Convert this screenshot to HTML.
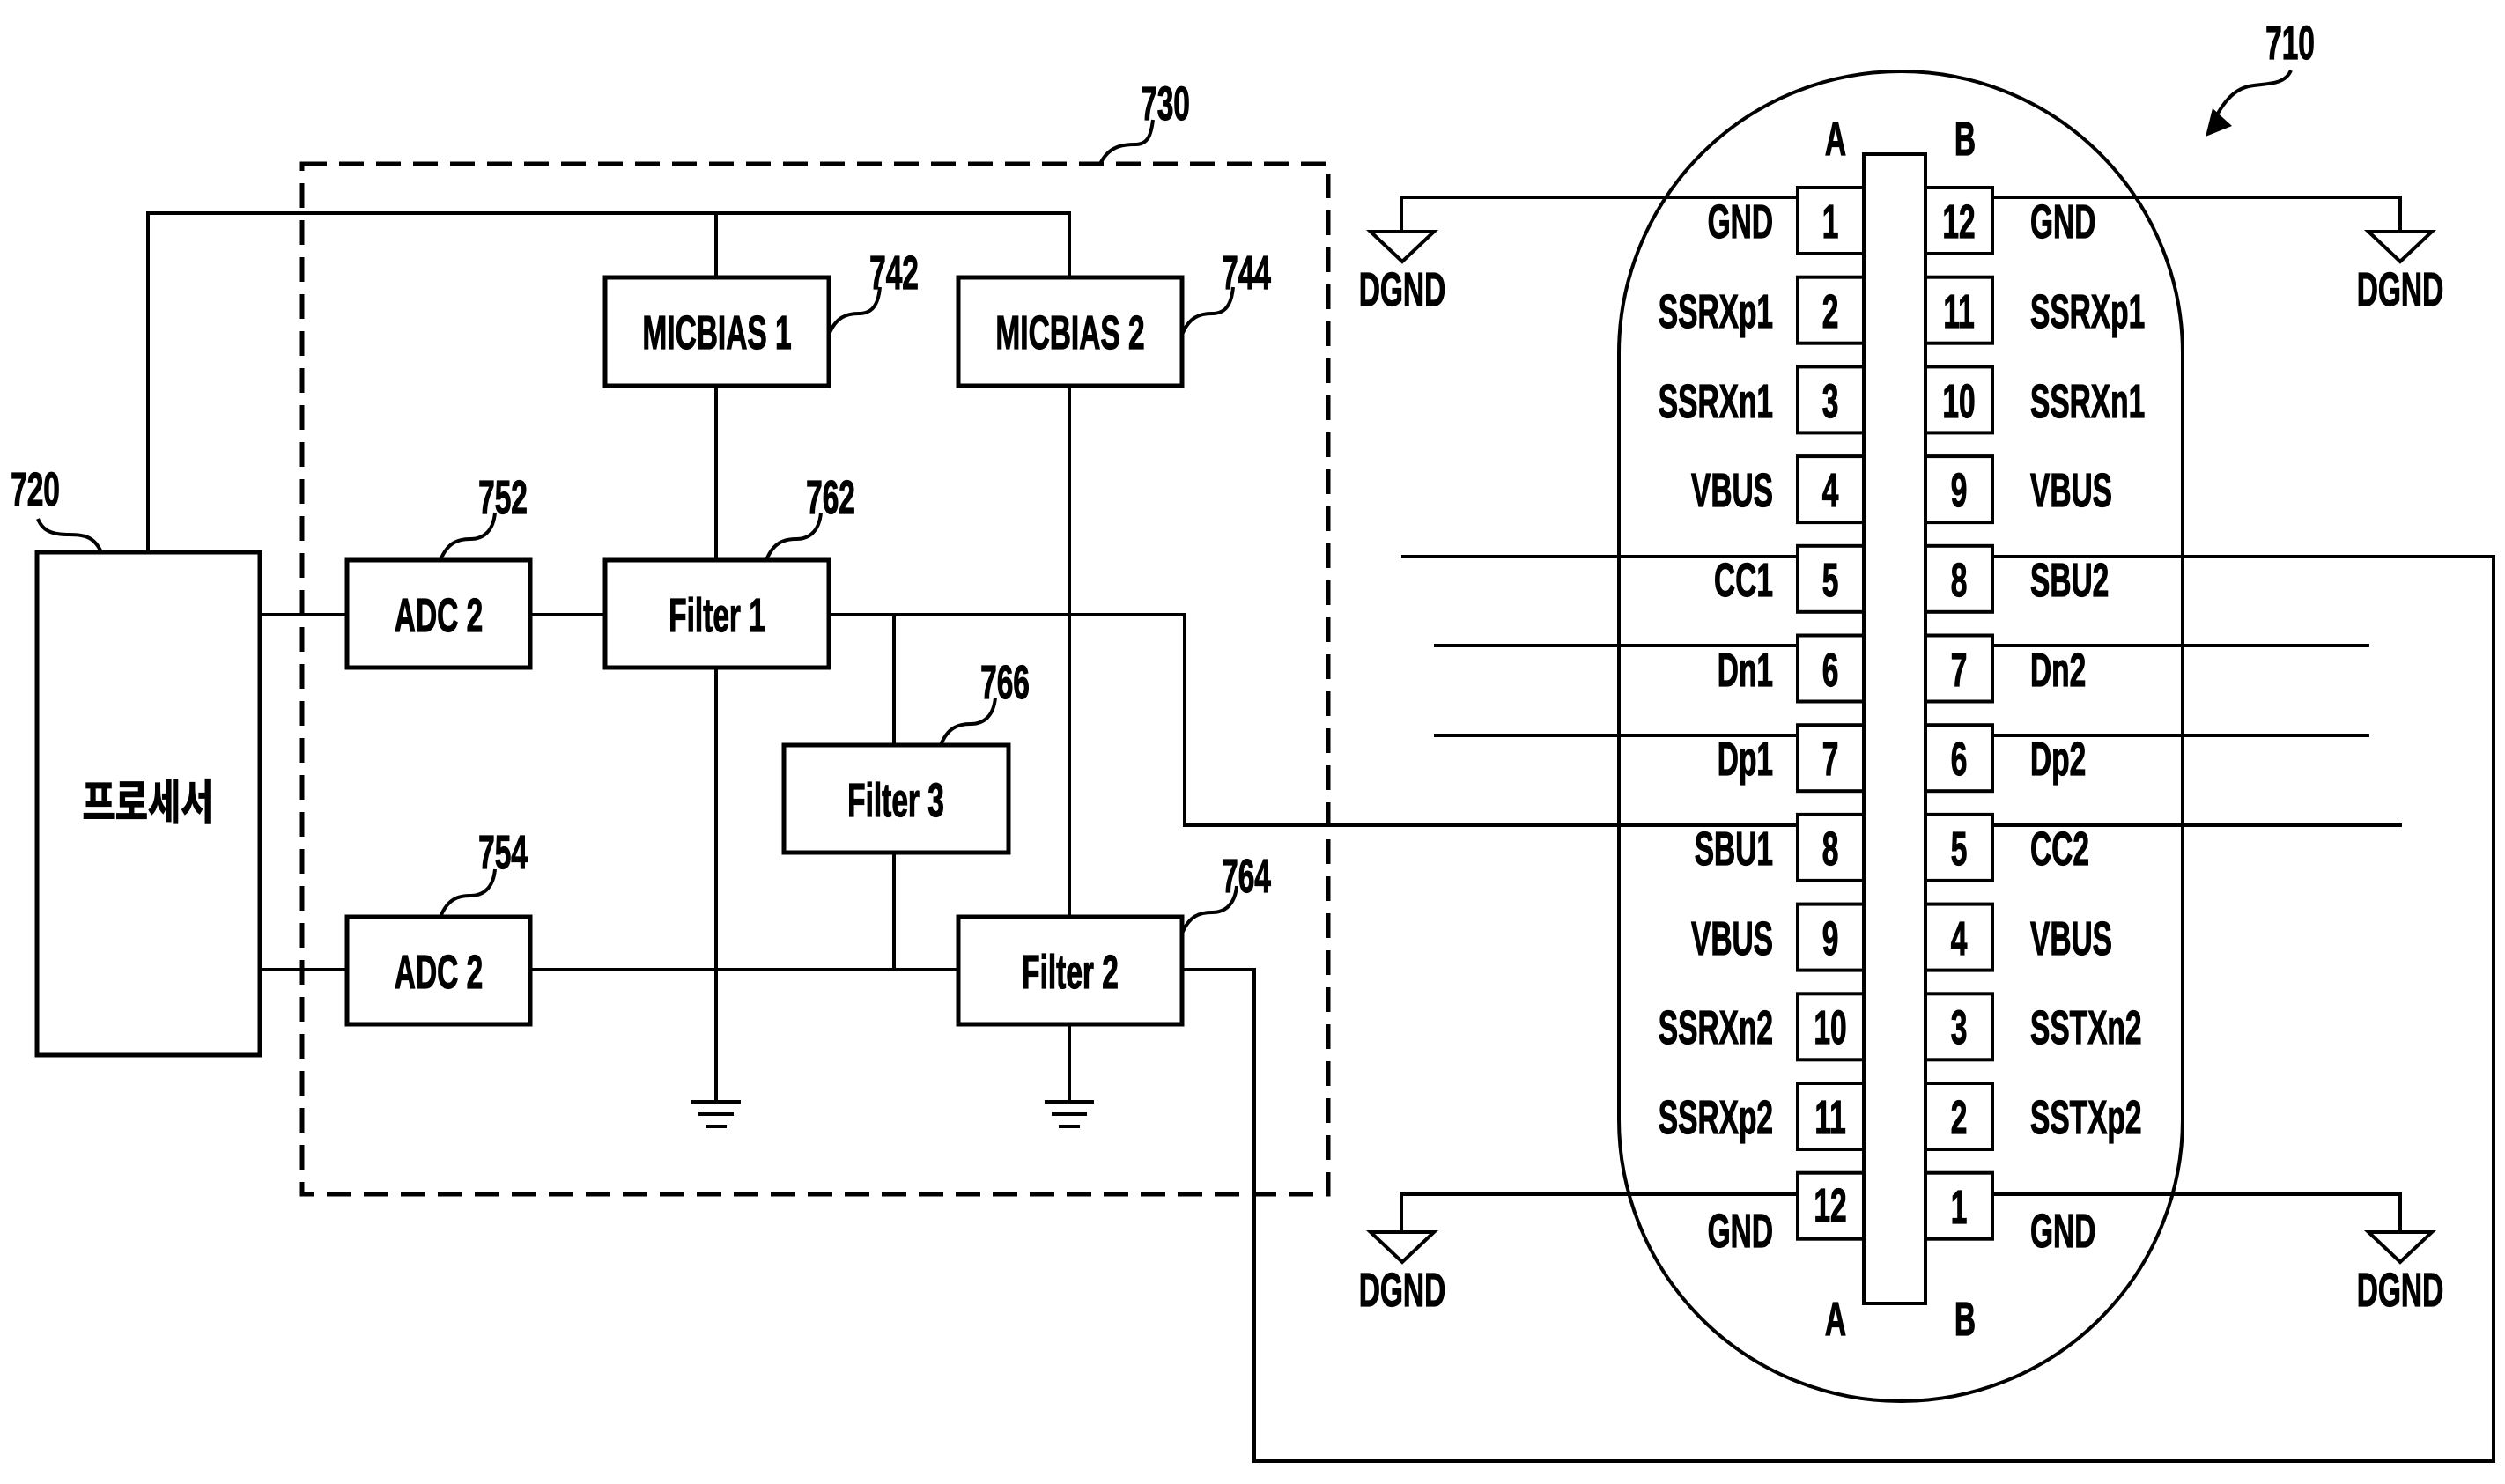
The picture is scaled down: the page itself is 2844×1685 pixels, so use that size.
<!DOCTYPE html>
<html><head><meta charset="utf-8"><style>
html,body{margin:0;padding:0;background:#fff}
svg{display:block}
text{font-family:"Liberation Sans","Noto Sans CJK KR",sans-serif;font-weight:bold;font-size:54px;fill:#000;stroke:#000;stroke-width:1.2}
</style></head><body>
<svg width="2844" height="1685" viewBox="0 0 2844 1685" xmlns="http://www.w3.org/2000/svg">
<g fill="none" stroke="#000" stroke-width="4">
<rect x="343" y="186" width="1165" height="1170" stroke-width="5" stroke-dasharray="28,14"/>
<g stroke-width="5">
<rect x="42" y="627" width="253" height="571"/>
<rect x="687" y="315" width="254" height="123"/>
<rect x="1088" y="315" width="254" height="123"/>
<rect x="394" y="636" width="208" height="122"/>
<rect x="687" y="636" width="254" height="122"/>
<rect x="890" y="846" width="255" height="122"/>
<rect x="394" y="1041" width="208" height="122"/>
<rect x="1088" y="1041" width="254" height="122"/>
</g>
<path d="M168 627V242H1214V315M813 242V315M813 438V636M813 758V1251M1214 438V1041M1214 1163V1251"/>
<path d="M295 698H394M602 698H687M941 698H1345V937H2041M1015 698V846M1015 968V1101"/>
<path d="M295 1101H394M602 1101H1088M1342 1101H1424V1659H2831V632H2262"/>
<path d="M785 1251H841M793 1265H833M801 1279H825M1186 1251H1242M1194 1265H1234M1202 1279H1226"/>
<path d="M1249 186c10-20 25-22 40-22s18-12 20-28"/>
<path d="M941 380c8-20 20-24 34-24s22-8 24-30"/>
<path d="M1342 380c8-20 20-24 34-24s22-8 24-30"/>
<path d="M115 627c-8-18-20-20-36-20s-30-2-36-18"/>
<path d="M500 636c8-20 20-24 34-24s26-8 28-30"/>
<path d="M870 636c8-20 20-24 34-24s26-8 28-30"/>
<path d="M1068 846c8-20 20-24 34-24s26-8 28-30"/>
<path d="M500 1041c8-20 20-24 34-24s26-8 28-30"/>
<path d="M1342 1060c8-20 20-24 34-24s26-8 28-30"/>
<path d="M2601 80c-8 18-30 14-48 18s-30 20-40 40"/>
</g>
<path d="M2504 155l8-32 22 20z" fill="#000"/>
<g fill="none" stroke="#000" stroke-width="4">
<rect x="1838" y="81" width="640" height="1510" rx="320" ry="320"/>
<rect x="2116" y="175" width="70" height="1305"/>
<g stroke-width="4">
<rect x="2041" y="213" width="75" height="75"/><rect x="2186" y="213" width="76" height="75"/>
<rect x="2041" y="314.7" width="75" height="75"/><rect x="2186" y="314.7" width="76" height="75"/>
<rect x="2041" y="416.4" width="75" height="75"/><rect x="2186" y="416.4" width="76" height="75"/>
<rect x="2041" y="518.1" width="75" height="75"/><rect x="2186" y="518.1" width="76" height="75"/>
<rect x="2041" y="619.8" width="75" height="75"/><rect x="2186" y="619.8" width="76" height="75"/>
<rect x="2041" y="721.5" width="75" height="75"/><rect x="2186" y="721.5" width="76" height="75"/>
<rect x="2041" y="823.2" width="75" height="75"/><rect x="2186" y="823.2" width="76" height="75"/>
<rect x="2041" y="924.9" width="75" height="75"/><rect x="2186" y="924.9" width="76" height="75"/>
<rect x="2041" y="1026.6" width="75" height="75"/><rect x="2186" y="1026.6" width="76" height="75"/>
<rect x="2041" y="1128.3" width="75" height="75"/><rect x="2186" y="1128.3" width="76" height="75"/>
<rect x="2041" y="1230" width="75" height="75"/><rect x="2186" y="1230" width="76" height="75"/>
<rect x="2041" y="1331.7" width="75" height="75"/><rect x="2186" y="1331.7" width="76" height="75"/>
</g>
<path d="M2041 224H1591V263M2262 224H2725V263M2041 1356H1591V1399M2262 1356H2725V1399"/>
<path d="M1556 263H1628L1592 297ZM2689 263H2761L2725 297ZM1556 1399H1628L1592 1433ZM2689 1399H2761L2725 1433Z"/>
<path d="M1591 632H2041M1628 733H2041M1628 835H2041M2262 733H2690M2262 835H2690M2262 937H2727"/>
</g>
<g>
<text transform="translate(814,396) scale(.62,1)" text-anchor="middle">MICBIAS 1</text>
<text transform="translate(1215,396) scale(.62,1)" text-anchor="middle">MICBIAS 2</text>
<text transform="translate(498,717) scale(.62,1)" text-anchor="middle">ADC 2</text>
<text transform="translate(814,717) scale(.62,1)" text-anchor="middle">Filter 1</text>
<text transform="translate(1017,927) scale(.62,1)" text-anchor="middle">Filter 3</text>
<text transform="translate(498,1122) scale(.62,1)" text-anchor="middle">ADC 2</text>
<text transform="translate(1215,1122) scale(.62,1)" text-anchor="middle">Filter 2</text>
<text transform="translate(168,930) scale(.75,1)" text-anchor="middle">프로세서</text>
<text transform="translate(1323,136) scale(.62,1)" text-anchor="middle">730</text>
<text transform="translate(1015,328) scale(.62,1)" text-anchor="middle">742</text>
<text transform="translate(1415,328) scale(.62,1)" text-anchor="middle">744</text>
<text transform="translate(40,574) scale(.62,1)" text-anchor="middle">720</text>
<text transform="translate(571,583) scale(.62,1)" text-anchor="middle">752</text>
<text transform="translate(943,583) scale(.62,1)" text-anchor="middle">762</text>
<text transform="translate(1141,793) scale(.62,1)" text-anchor="middle">766</text>
<text transform="translate(571,986) scale(.62,1)" text-anchor="middle">754</text>
<text transform="translate(1415,1013) scale(.62,1)" text-anchor="middle">764</text>
<text transform="translate(2600,67) scale(.62,1)" text-anchor="middle">710</text>
<text transform="translate(2084,176) scale(.62,1)" text-anchor="middle">A</text>
<text transform="translate(2231,176) scale(.62,1)" text-anchor="middle">B</text>
<text transform="translate(2084,1516) scale(.62,1)" text-anchor="middle">A</text>
<text transform="translate(2231,1516) scale(.62,1)" text-anchor="middle">B</text>
<text transform="translate(1592,347) scale(.62,1)" text-anchor="middle">DGND</text>
<text transform="translate(2725,347) scale(.62,1)" text-anchor="middle">DGND</text>
<text transform="translate(1592,1483) scale(.62,1)" text-anchor="middle">DGND</text>
<text transform="translate(2725,1483) scale(.62,1)" text-anchor="middle">DGND</text>
</g>
<g text-anchor="end">
<text transform="translate(2013,270) scale(.62,1)">GND</text>
<text transform="translate(2013,372) scale(.62,1)">SSRXp1</text>
<text transform="translate(2013,474) scale(.62,1)">SSRXn1</text>
<text transform="translate(2013,575) scale(.62,1)">VBUS</text>
<text transform="translate(2013,677) scale(.62,1)">CC1</text>
<text transform="translate(2013,779) scale(.62,1)">Dn1</text>
<text transform="translate(2013,880) scale(.62,1)">Dp1</text>
<text transform="translate(2013,982) scale(.62,1)">SBU1</text>
<text transform="translate(2013,1084) scale(.62,1)">VBUS</text>
<text transform="translate(2013,1185) scale(.62,1)">SSRXn2</text>
<text transform="translate(2013,1287) scale(.62,1)">SSRXp2</text>
<text transform="translate(2013,1416) scale(.62,1)">GND</text>
</g>
<g text-anchor="start">
<text transform="translate(2305,270) scale(.62,1)">GND</text>
<text transform="translate(2305,372) scale(.62,1)">SSRXp1</text>
<text transform="translate(2305,474) scale(.62,1)">SSRXn1</text>
<text transform="translate(2305,575) scale(.62,1)">VBUS</text>
<text transform="translate(2305,677) scale(.62,1)">SBU2</text>
<text transform="translate(2305,779) scale(.62,1)">Dn2</text>
<text transform="translate(2305,880) scale(.62,1)">Dp2</text>
<text transform="translate(2305,982) scale(.62,1)">CC2</text>
<text transform="translate(2305,1084) scale(.62,1)">VBUS</text>
<text transform="translate(2305,1185) scale(.62,1)">SSTXn2</text>
<text transform="translate(2305,1287) scale(.62,1)">SSTXp2</text>
<text transform="translate(2305,1416) scale(.62,1)">GND</text>
</g>
<g text-anchor="middle">
<text transform="translate(2078,270) scale(.62,1)">1</text><text transform="translate(2224,270) scale(.62,1)">12</text>
<text transform="translate(2078,372) scale(.62,1)">2</text><text transform="translate(2224,372) scale(.62,1)">11</text>
<text transform="translate(2078,474) scale(.62,1)">3</text><text transform="translate(2224,474) scale(.62,1)">10</text>
<text transform="translate(2078,575) scale(.62,1)">4</text><text transform="translate(2224,575) scale(.62,1)">9</text>
<text transform="translate(2078,677) scale(.62,1)">5</text><text transform="translate(2224,677) scale(.62,1)">8</text>
<text transform="translate(2078,779) scale(.62,1)">6</text><text transform="translate(2224,779) scale(.62,1)">7</text>
<text transform="translate(2078,880) scale(.62,1)">7</text><text transform="translate(2224,880) scale(.62,1)">6</text>
<text transform="translate(2078,982) scale(.62,1)">8</text><text transform="translate(2224,982) scale(.62,1)">5</text>
<text transform="translate(2078,1084) scale(.62,1)">9</text><text transform="translate(2224,1084) scale(.62,1)">4</text>
<text transform="translate(2078,1185) scale(.62,1)">10</text><text transform="translate(2224,1185) scale(.62,1)">3</text>
<text transform="translate(2078,1287) scale(.62,1)">11</text><text transform="translate(2224,1287) scale(.62,1)">2</text>
<text transform="translate(2078,1387) scale(.62,1)">12</text><text transform="translate(2224,1389) scale(.62,1)">1</text>
</g>
</svg>
</body></html>
